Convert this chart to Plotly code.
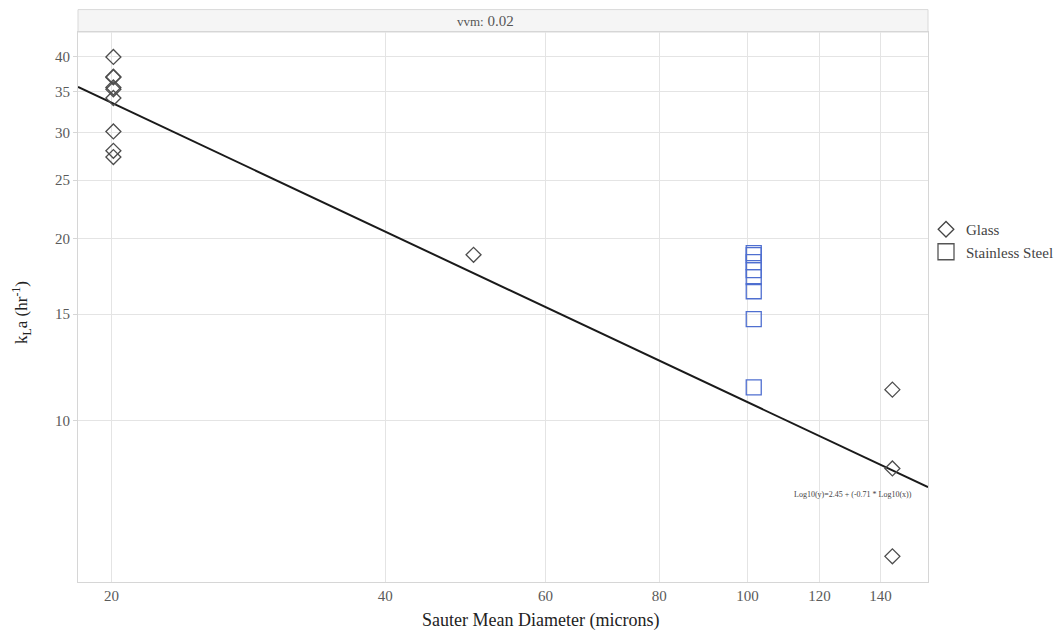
import numpy as np
import plotly.graph_objects as go

# Measurements: Sauter mean diameter (microns) vs kLa (1/hr) at 0.02 vvm
glass_x = [20.1] * 9 + [50.0] + [144.3] * 3
glass_y = [40.0, 37.1, 37.0, 35.6, 35.35, 34.2, 30.1, 27.96, 27.3,
           18.8,
           11.24, 8.32, 5.95]

steel_x = [101.6] * 8
steel_y = [18.92, 18.78, 18.28, 17.74, 17.26, 16.36, 14.71, 11.34]

# Power-law fit: Log10(y) = intercept + slope * Log10(x)
fit_intercept = 2.45
fit_slope = -0.71

x_ticks = [20, 40, 60, 80, 100, 120, 140]
y_ticks = [10, 15, 20, 25, 30, 35, 40]

x_range_log = [1.2643, 2.1984]
y_range_log = [0.732, 1.6434]

FONT = "Liberation Serif"
GRID = "#e4e4e4"
GLASS_COLOR = "#4d4d4d"
STEEL_COLOR = "#4f6fd0"

line_x = np.logspace(x_range_log[0], x_range_log[1], 200)
line_y = 10 ** (fit_intercept + fit_slope * np.log10(line_x))

fig = go.Figure()

fig.add_trace(go.Scatter(
    x=line_x, y=line_y, mode="lines",
    line=dict(color="#1a1a1a", width=2),
    showlegend=False, hoverinfo="skip",
))

fig.add_trace(go.Scatter(
    x=glass_x, y=glass_y, mode="markers", name="Glass",
    marker=dict(symbol="diamond-open", size=11.5,
                color=GLASS_COLOR, line=dict(width=1.3, color=GLASS_COLOR)),
    showlegend=False,
))
fig.add_trace(go.Scatter(
    x=steel_x, y=steel_y, mode="markers", name="Stainless Steel",
    marker=dict(symbol="square-open", size=15,
                color=STEEL_COLOR, line=dict(width=1.3, color=STEEL_COLOR)),
    showlegend=False,
))

# Legend entries (gray glyphs)
fig.add_trace(go.Scatter(
    x=[None], y=[None], mode="markers", name="Glass",
    marker=dict(symbol="diamond-open", size=12, color="#444444",
                line=dict(width=1.3, color="#444444")),
))
fig.add_trace(go.Scatter(
    x=[None], y=[None], mode="markers", name="Stainless Steel",
    marker=dict(symbol="square-open", size=16, color="#555555",
                line=dict(width=1.3, color="#555555")),
))

fig.update_xaxes(
    type="log", range=x_range_log,
    tickvals=x_ticks, ticktext=[str(v) for v in x_ticks],
    showgrid=True, gridcolor=GRID, gridwidth=1,
    showline=True, linecolor="#d6d6d6", linewidth=1, mirror=True,
    zeroline=False, ticks="",
    tickfont=dict(family=FONT, size=15, color="#5a5a5a"),
)
fig.update_yaxes(
    type="log", range=y_range_log,
    tickvals=y_ticks, ticktext=[str(v) for v in y_ticks],
    showgrid=True, gridcolor=GRID, gridwidth=1,
    showline=True, linecolor="#d6d6d6", linewidth=1, mirror=True,
    zeroline=False, ticks="outside", ticklen=4, tickcolor="#d6d6d6",
    tickfont=dict(family=FONT, size=15, color="#5a5a5a"),
)

W, H = 1063, 633
L, R, T, B = 78, 135, 32, 51

fig.update_layout(
    width=W, height=H,
    margin=dict(l=L, r=R, t=T, b=B, autoexpand=False),
    paper_bgcolor="white", plot_bgcolor="white",
    font=dict(family=FONT, color="#333333"),
    legend=dict(
        xref="container", yref="container",
        x=926 / W, y=1 - 213 / H, xanchor="left", yanchor="top",
        font=dict(family=FONT, size=15, color="#444444"),
        bgcolor="rgba(0,0,0,0)", tracegroupgap=0, itemwidth=30,
    ),
    shapes=[
        # facet header band
        dict(type="rect", xref="paper", yref="paper",
             x0=0, x1=1, y0=1, y1=1 + 22.4 / (H - T - B),
             fillcolor="#f5f5f5", line=dict(color="#d9d9d9", width=1),
             layer="below"),
    ],
    annotations=[
        dict(text="<span style='font-size:13px'>vvm:</span> 0.02",
             xref="paper", yref="paper",
             x=(485 - L) / (W - L - R), y=1 + 11.2 / (H - T - B),
             xanchor="center", yanchor="middle", showarrow=False,
             font=dict(family=FONT, size=15, color="#555555")),
        dict(text="Sauter Mean Diameter (microns)",
             xref="paper", yref="paper",
             x=(540 - L) / (W - L - R), y=-(620 - (H - B)) / (H - T - B),
             xanchor="center", yanchor="middle", showarrow=False,
             font=dict(family=FONT, size=18, color="#222222")),
        dict(text="k<sub>L</sub>a (hr<sup>-1</sup>)",
             xref="paper", yref="paper",
             x=-(L - 22) / (W - L - R), y=(H - B - 312) / (H - T - B),
             xanchor="center", yanchor="middle", textangle=-90,
             showarrow=False,
             font=dict(family=FONT, size=17, color="#222222")),
        dict(text=f"Log10(y)={fit_intercept} + ({fit_slope} * Log10(x))",
             xref="paper", yref="paper",
             x=(792 - L) / (W - L - R), y=(H - B - 494) / (H - T - B),
             xanchor="left", yanchor="middle", showarrow=False,
             font=dict(family=FONT, size=8, color="#444444")),
    ],
)

fig.write_html("out.html")
